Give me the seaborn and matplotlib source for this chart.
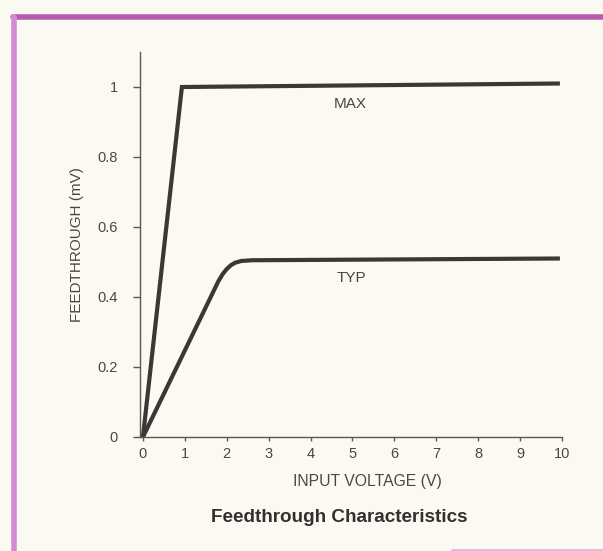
import matplotlib
matplotlib.use("Agg")
import matplotlib.pyplot as plt
from matplotlib.lines import Line2D
import pandas as pd
import seaborn as sns

# Feedthrough curves
max_x = [0.0, 0.93, 9.95]
max_y = [0.0, 1.0, 1.01]

typ_x = [0.0, 1.8, 1.9, 2.0, 2.1, 2.2, 2.35, 2.6, 9.95]
typ_y = [0.0, 0.445, 0.465, 0.48, 0.491, 0.498, 0.503, 0.505, 0.51]

x_ticks = [0, 1, 2, 3, 4, 5, 6, 7, 8, 9, 10]
y_ticks = [0, 0.2, 0.4, 0.6, 0.8, 1]
y_tick_labels = ["0", "0.2", "0.4", "0.6", "0.8", "1"]

df = pd.concat([
    pd.DataFrame({"v": max_x, "ft": max_y, "curve": "MAX"}),
    pd.DataFrame({"v": typ_x, "ft": typ_y, "curve": "TYP"}),
])

sns.set_style("ticks")
plt.rcParams["font.family"] = ["Liberation Sans", "DejaVu Sans"]

paper = "#fbfaf2"
ink = "#3b3737"
grey = "#5a5656"
text_col = "#4a4646"

fig = plt.figure(figsize=(6.03, 5.51), dpi=100, facecolor=paper)
ax = fig.add_axes([140 / 603, 114 / 551, 422 / 603, 385 / 551])
ax.set_facecolor(paper)

sns.lineplot(data=df, x="v", y="ft", hue="curve", palette={"MAX": ink, "TYP": ink},
             linewidth=3.0, legend=False, sort=False, ax=ax)
for line in ax.get_lines():
    line.set_solid_joinstyle("miter")
    line.set_solid_capstyle("butt")

ax.set_xlim(-0.07, 10)
ax.set_ylim(0, 1.1)
ax.set_xticks(x_ticks)
ax.set_yticks(y_ticks)
ax.set_yticklabels(y_tick_labels)

for side in ["top", "right"]:
    ax.spines[side].set_visible(False)
for side in ["left", "bottom"]:
    ax.spines[side].set_color(grey)
    ax.spines[side].set_linewidth(1.0)

ax.tick_params(axis="y", direction="out", length=5, width=1, color=grey,
               labelcolor=text_col, labelsize=10.5, pad=11)
ax.tick_params(axis="x", direction="out", length=3, width=1, color=grey,
               labelcolor=text_col, labelsize=10.5, pad=4)

ax.set_xlabel("INPUT VOLTAGE (V)", fontsize=11.3, color=text_col)
ax.xaxis.set_label_coords(0.538, -0.097)
ax.set_ylabel("FEEDTHROUGH (mV)", fontsize=11, color=text_col, labelpad=10)

ax.text(4.95, 0.95, "MAX", fontsize=11, color=text_col, ha="center", va="center")
ax.text(4.97, 0.455, "TYP", fontsize=11, color=text_col, ha="center", va="center")

fig.text(339 / 603, 1 - 517 / 551, "Feedthrough Characteristics", fontsize=13.6,
         fontweight="bold", color="#333030", ha="center", va="center")

# magenta frame of the scanned page
fig.add_artist(Line2D([13 / 603, 1.0], [1 - 17 / 551, 1 - 17 / 551],
                      transform=fig.transFigure, color="#b65cae", linewidth=4))
fig.add_artist(Line2D([14 / 603, 14 / 603], [0.0, 1 - 17 / 551],
                      transform=fig.transFigure, color="#d58bd2", linewidth=4))
fig.add_artist(Line2D([0.75, 1.0], [1 / 551, 1 / 551],
                      transform=fig.transFigure, color="#e6b2df", linewidth=2))

fig.savefig("out.png", dpi=100, facecolor=paper)
